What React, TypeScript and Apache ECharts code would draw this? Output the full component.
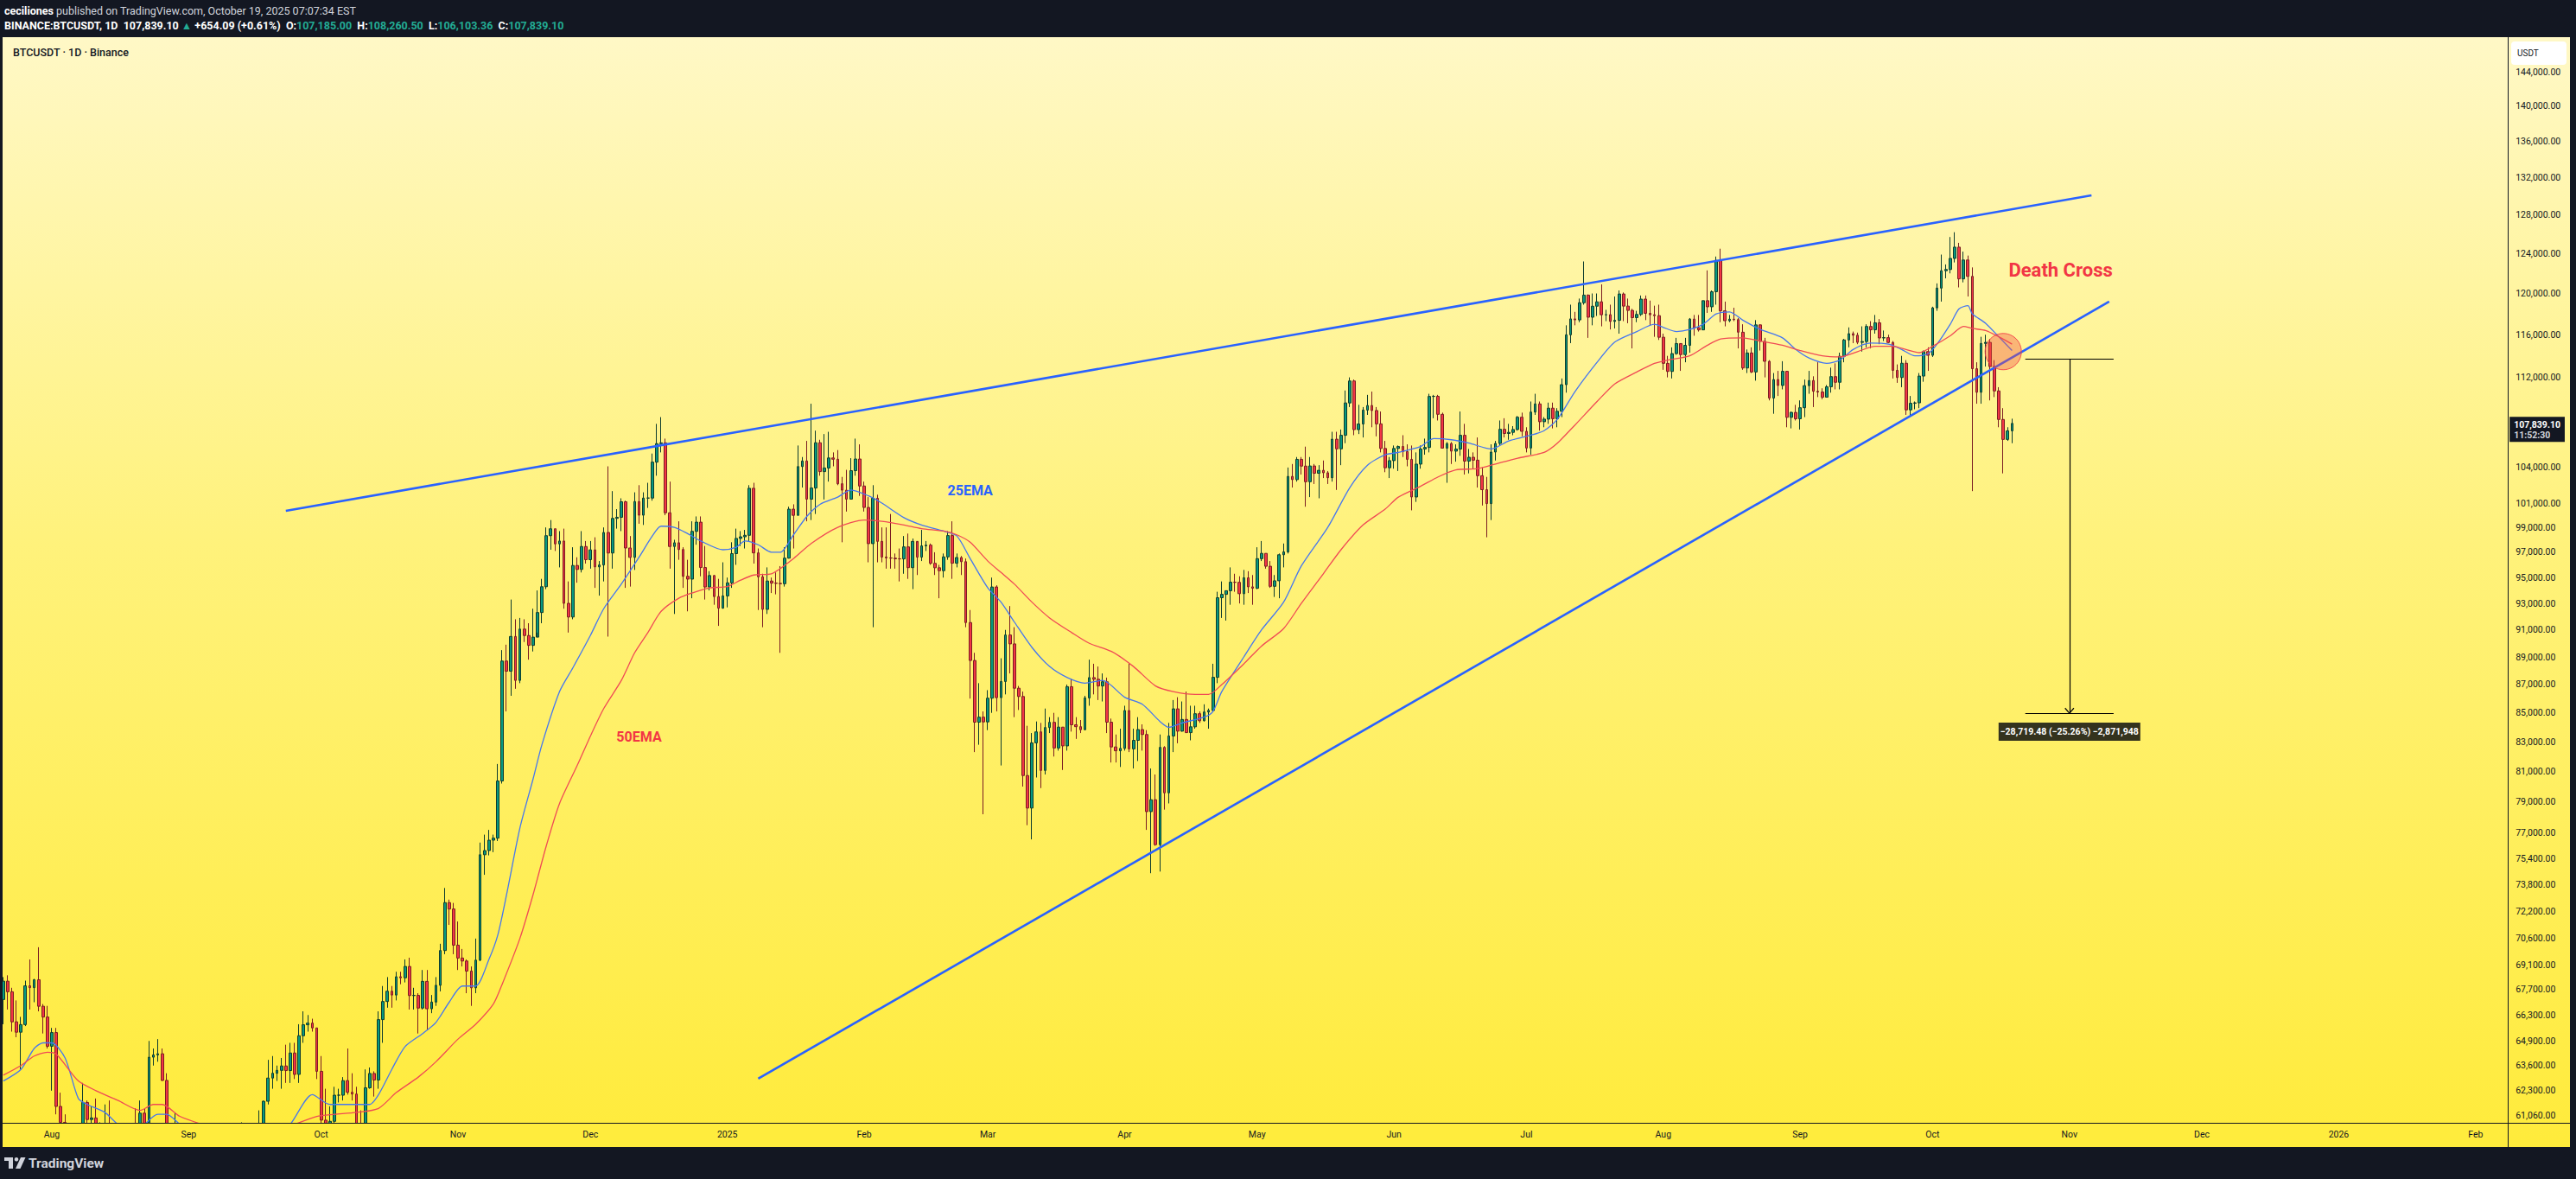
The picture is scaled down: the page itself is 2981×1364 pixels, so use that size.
import React, { useEffect, useRef } from "react";
import * as echarts from "echarts";

const FONT = 'Roboto, "Liberation Sans", Arial, sans-serif';

// ---- daily candles: [high, low, close], thousands of USDT ----
const firstOpen = 67.15; // open of 2024-07-21
const jul2024 = [[68.4,65.8,68.17],[68.5,66.6,67.58],[67.8,65.4,65.93],[67.1,65.1,65.37],[66.2,63.4,65.78],[68.2,65.7,67.91],[69.4,66.6,67.81],[68.3,67.0,68.25],[70.1,66.5,66.78],[66.9,65.3,66.19],[66.8,64.5,64.62]];
const aug2024 = [[65.6,62.3,65.35],[65.6,61.1,61.50],[62.2,59.8,60.70],[61.1,57.1,58.16],[58.3,49.0,54.02],[57.0,53.9,56.04],[57.8,54.6,55.13],[62.7,54.8,61.70],[61.8,59.6,60.84],[61.5,60.3,60.92],[61.9,58.3,58.71],[60.7,57.7,59.35],[61.6,58.5,60.60],[61.8,58.4,58.74],[59.8,56.1,57.56],[59.8,57.1,58.87],[59.7,58.8,59.49],[60.3,58.4,58.43],[59.6,57.9,59.48],[61.4,58.6,59.01],[61.8,58.8,61.16],[61.4,59.8,60.38],[64.9,60.3,64.04],[64.5,63.6,64.16],[65.0,63.8,64.22],[64.5,62.8,62.83],[63.2,58.0,59.42],[60.2,57.9,59.02],[61.2,58.8,59.37],[59.9,57.8,59.12],[59.4,58.7,58.97]];
const sep2024 = [[59.1,57.2,57.30],[59.4,57.1,59.13],[59.8,57.4,57.48],[58.5,55.6,57.97],[58.3,55.7,56.16],[56.9,52.5,53.95],[54.8,53.7,54.16],[55.3,53.6,54.87],[58.1,54.6,57.05],[58.0,56.4,57.64],[57.9,55.5,57.34],[58.6,57.3,58.13],[60.7,57.6,60.57],[60.6,59.4,60.00],[60.4,58.7,59.13],[59.2,57.5,58.21],[61.3,57.6,60.31],[61.8,59.2,61.76],[63.9,61.6,62.95],[64.1,62.4,63.20],[63.6,62.8,63.35],[64.0,62.4,63.58],[64.7,62.7,63.34],[64.8,62.7,64.26],[64.8,62.9,63.14],[65.8,62.7,65.18],[66.5,64.8,65.77],[66.3,65.4,65.86],[66.1,65.4,65.60],[65.6,62.9,63.30]];
const oct2024 = [[64.1,60.2,60.81],[62.4,59.8,60.63],[61.5,59.8,60.75],[62.5,60.5,62.07],[62.4,61.7,62.07],[63.0,61.8,62.82],[64.5,62.1,62.22],[63.2,61.8,62.13],[62.5,60.3,60.58],[61.3,58.9,60.27],[63.4,59.9,62.45],[63.5,62.4,63.19],[63.3,62.0,62.85],[66.5,62.4,66.05],[67.9,64.8,67.04],[68.4,66.7,67.61],[67.9,66.7,67.40],[68.7,67.1,68.42],[68.7,68.0,68.36],[69.4,68.1,69.00],[69.5,66.6,67.37],[67.8,66.6,67.38],[67.5,65.3,66.68],[68.8,66.6,68.16],[68.8,65.5,66.64],[67.4,66.4,67.01],[68.4,66.8,67.94],[70.3,67.6,69.91],[73.6,69.7,72.72],[72.9,71.4,72.34],[72.7,69.7,70.22]];
const nov2024 = [[71.6,68.8,69.48],[70.0,69.0,69.31],[69.4,67.5,68.74],[69.0,66.8,67.80],[70.6,67.5,69.36],[76.4,69.3,75.64],[76.9,74.4,75.90],[77.2,75.6,76.55],[76.9,75.8,76.68],[81.5,76.5,80.37],[89.5,80.2,88.70],[89.9,85.1,87.96],[93.3,86.2,90.51],[91.8,86.7,87.30],[91.9,87.1,91.06],[91.8,90.1,90.58],[91.5,88.8,89.85],[92.6,89.4,90.46],[94.0,90.8,92.31],[94.9,91.5,94.29],[99.0,94.1,98.33],[99.6,97.2,98.89],[98.9,97.1,97.67],[98.7,95.8,97.90],[98.9,92.6,93.01],[94.7,90.8,91.97],[97.4,91.8,95.95],[96.6,94.6,95.64],[98.7,95.4,97.46],[97.9,96.1,96.41]];
const dec2024 = [[97.9,95.7,97.19],[98.2,94.2,95.84],[96.3,93.6,95.99],[99.0,94.7,98.59],[104.1,90.5,96.94],[102.0,95.7,99.74],[100.5,98.9,99.83],[101.4,98.7,101.11],[101.2,94.2,97.34],[98.3,94.3,96.59],[101.9,95.6,101.13],[102.5,99.3,100.00],[101.9,99.2,101.42],[102.7,100.6,101.42],[105.2,101.2,104.46],[107.8,103.3,106.06],[108.4,105.3,106.13],[106.5,100.0,100.20],[102.8,95.7,97.46],[98.0,92.2,97.76],[99.5,96.4,97.22],[97.4,94.2,95.10],[96.4,92.4,94.88],[99.5,93.4,98.68],[99.9,97.6,99.43],[99.9,95.1,95.79],[97.5,93.3,94.27],[95.5,94.0,95.16],[95.2,92.9,93.53],[94.9,91.3,92.64],[96.2,92.6,93.58]];
const jan2025 = [[95.0,92.7,94.59],[97.8,94.2,96.89],[98.9,96.0,98.11],[98.7,97.5,98.24],[98.8,97.3,98.36],[102.5,97.9,102.24],[102.7,96.1,96.95],[97.3,92.5,95.06],[95.3,91.2,92.55],[95.8,92.2,94.73],[95.0,93.8,94.57],[95.4,93.7,94.55],[95.9,89.3,94.52],[97.4,94.3,96.53],[100.7,96.5,100.50],[100.9,97.3,99.99],[105.9,100.0,104.08],[104.9,102.3,104.56],[106.3,99.5,101.33],[109.6,99.6,102.26],[107.2,100.1,106.14],[106.4,103.3,103.65],[106.9,101.3,103.96],[107.1,102.8,104.82],[105.3,104.1,104.71],[105.5,102.5,102.62],[103.2,97.8,102.08],[103.8,100.3,101.33],[104.8,101.3,103.73],[106.5,103.3,104.73],[106.0,101.6,102.43]];
const feb2025 = [[102.8,100.3,100.64],[101.5,96.2,97.69],[102.5,91.2,101.40],[101.7,96.2,97.87],[99.0,96.2,96.62],[99.0,95.7,96.55],[100.1,95.7,96.53],[96.9,95.7,96.48],[97.3,94.7,96.47],[98.3,95.3,97.43],[98.5,94.9,95.78],[98.1,94.1,97.87],[97.8,95.2,96.61],[98.8,96.3,97.51],[97.9,97.1,97.57],[97.7,96.0,96.12],[97.0,95.2,95.77],[96.0,93.4,95.54],[96.9,95.0,96.63],[98.7,96.4,98.34],[99.5,94.9,96.13],[96.9,95.8,96.58],[96.7,95.2,96.25],[96.5,91.2,91.55],[92.5,86.0,88.74],[89.3,82.3,84.35],[87.1,82.8,84.70],[85.1,78.2,84.37]];
const mar2025 = [[86.6,83.8,86.03],[95.0,85.0,94.27],[94.4,85.1,86.07],[88.9,81.4,87.22],[91.0,86.3,90.62],[92.8,87.8,89.96],[91.2,84.7,86.74],[86.9,85.2,86.15],[86.5,80.0,80.73],[84.1,77.5,78.60],[83.6,76.6,82.93],[84.4,80.6,83.68],[84.3,79.9,81.07],[85.3,80.8,83.98],[84.7,83.6,84.34],[85.0,82.0,82.58],[84.7,82.4,84.01],[84.0,81.1,82.72],[87.0,82.4,86.85],[87.4,83.7,84.17],[84.7,83.2,84.04],[84.5,83.6,83.83],[86.2,83.8,86.05],[88.8,85.5,87.50],[88.5,86.3,87.38],[88.3,85.9,86.90],[87.8,85.8,87.20],[87.5,83.6,84.35],[84.6,81.6,82.65],[83.5,81.6,82.39],[83.9,81.3,82.55]];
const apr2025 = [[85.5,82.4,85.16],[88.5,82.3,82.52],[83.9,81.2,83.10],[84.7,81.7,83.84],[84.2,82.4,83.50],[83.8,77.2,78.37],[81.2,74.5,79.14],[80.8,76.2,76.27],[83.5,74.6,82.62],[82.7,78.5,79.59],[84.3,78.9,83.40],[85.9,82.3,85.28],[86.1,82.9,83.73],[85.8,83.7,84.54],[86.5,83.6,83.63],[85.5,83.1,84.03],[85.5,83.9,84.94],[85.1,84.3,84.45],[85.6,84.4,85.06],[85.3,83.9,85.17],[88.5,85.1,87.52],[93.9,87.1,93.44],[94.7,91.9,93.70],[94.0,91.7,93.98],[95.8,92.9,94.64],[95.3,93.9,94.63],[95.1,93.0,93.75],[95.6,92.9,94.98],[95.5,93.8,94.28],[95.2,92.9,94.17]];
const may2025 = [[97.4,94.1,96.49],[97.9,96.3,96.91],[96.9,95.7,95.89],[96.3,94.2,94.32],[95.2,93.5,94.75],[96.9,93.4,96.80],[97.7,95.8,97.03],[104.0,96.9,103.24],[104.3,102.3,102.97],[104.9,102.8,104.70],[104.9,103.4,104.12],[105.8,100.7,102.79],[104.9,101.5,104.13],[104.3,102.6,103.51],[104.2,101.4,103.76],[104.6,103.1,103.55],[103.7,102.6,103.13],[107.1,102.8,106.45],[107.1,102.1,105.61],[107.3,104.2,106.79],[110.8,106.1,109.67],[112.0,109.3,111.67],[111.8,106.8,107.29],[109.5,106.9,107.79],[109.3,106.6,109.03],[110.4,108.6,109.44],[110.7,107.5,108.99],[109.3,106.7,107.80],[108.9,105.3,105.64],[106.3,103.6,103.98],[104.9,103.1,104.59]];
const jun2025 = [[105.9,103.9,105.64],[105.9,103.7,105.81],[106.8,104.9,105.37],[106.0,104.1,104.70],[105.9,100.4,101.51],[105.3,101.1,104.29],[105.9,103.9,105.60],[106.5,105.1,105.73],[110.5,105.3,110.26],[110.4,108.3,110.27],[110.4,108.1,108.65],[108.8,105.7,105.67],[106.2,102.7,106.07],[106.2,104.3,105.41],[106.0,104.5,105.59],[108.9,105.0,106.79],[107.8,103.4,104.55],[105.6,103.5,104.88],[105.3,103.9,104.63],[106.6,102.3,103.30],[104.0,100.8,102.12],[103.2,98.2,100.96],[106.0,99.6,105.33],[106.3,104.6,106.08],[108.1,105.9,107.32],[108.3,106.6,106.95],[107.8,106.4,107.05],[107.6,106.8,107.30],[108.5,107.2,108.39],[108.8,106.7,107.14]];
const jul2025 = [[107.5,105.3,105.68],[109.8,105.1,108.85],[110.5,108.6,109.58],[109.8,107.2,107.99],[108.4,107.5,108.22],[109.7,107.8,109.20],[109.7,107.4,108.26],[109.2,107.5,108.92],[111.9,108.4,111.33],[116.9,110.6,115.99],[118.9,115.2,117.52],[118.2,116.9,117.42],[119.5,117.2,119.09],[123.2,118.9,119.84],[119.9,115.7,117.68],[120.0,116.9,118.75],[120.0,117.8,119.18],[120.9,116.8,117.92],[118.4,117.3,117.93],[118.9,116.5,117.27],[119.7,116.6,117.38],[120.3,116.1,119.95],[120.1,117.3,118.76],[119.5,117.1,118.34],[118.5,114.7,117.64],[118.3,117.2,117.95],[119.8,117.8,119.45],[119.8,117.4,118.06],[119.3,116.9,117.92],[118.8,115.8,117.83],[118.9,115.5,115.76]];
const aug2025 = [[116.1,112.7,113.30],[114.0,112.0,112.55],[114.8,111.9,114.21],[115.7,114.1,115.16],[115.1,112.6,114.12],[115.7,113.4,114.99],[117.6,114.3,117.50],[117.9,115.9,116.67],[117.9,116.3,116.46],[119.3,116.5,119.29],[122.3,118.1,118.69],[120.3,118.2,120.17],[123.7,118.9,123.31],[124.5,117.2,118.30],[119.2,116.8,117.34],[117.9,117.2,117.49],[118.6,117.3,117.45],[117.6,114.7,116.24],[117.0,112.7,112.87],[114.6,112.4,114.27],[114.8,112.4,112.50],[117.4,111.7,116.94],[117.0,114.5,115.37],[115.7,112.0,113.49],[113.6,109.9,110.11],[112.4,108.7,111.80],[112.6,110.3,111.26],[113.5,110.9,112.56],[112.6,107.5,108.38],[108.9,107.4,108.82],[109.5,108.1,108.25]];
const sep2025 = [[109.9,107.3,109.24],[111.8,108.4,111.24],[112.6,110.5,111.71],[112.1,109.3,110.73],[113.4,110.2,110.66],[111.0,110.0,110.19],[111.3,110.2,111.14],[112.9,110.6,112.07],[113.3,110.9,111.55],[114.3,110.9,113.96],[115.6,113.4,115.50],[116.7,114.8,116.10],[116.3,115.2,115.95],[116.2,115.1,115.27],[116.8,114.4,115.35],[117.0,114.8,116.79],[117.3,114.7,116.47],[117.9,116.1,117.14],[117.5,115.1,115.69],[116.4,115.4,115.72],[116.0,115.2,115.26],[115.4,111.9,112.65],[113.2,111.5,111.99],[114.0,111.1,113.31],[113.6,108.6,109.05],[110.3,108.6,109.64],[109.8,109.1,109.68],[112.4,109.2,112.12],[114.5,111.6,114.40],[114.8,112.6,114.05]];
const oct2025 = [[118.7,113.9,118.59],[121.0,118.3,120.53],[123.9,119.2,122.27],[122.9,121.5,122.39],[125.7,122.0,123.51],[126.2,123.1,124.66],[125.1,120.6,121.45],[124.2,121.1,123.35],[123.8,119.7,121.70],[122.6,102.0,112.80],[113.4,109.6,110.64],[115.8,109.6,115.17],[116.0,113.0,115.27],[115.6,109.9,113.00],[113.6,110.2,110.76],[111.1,107.5,108.19],[109.2,103.5,106.43],[107.5,106.3,107.185],[108.26,106.10,107.84]];

// ---- EMA lines at sample dates (thousands of USDT) ----
const ema25: [string, number][] = [
  ["2024-07-21",62.8],["2024-07-25",63.4],["2024-07-28",64.5],["2024-07-30",64.8],["2024-08-01",64.8],["2024-08-04",64.0],["2024-08-07",61.9],["2024-08-09",61.6],["2024-08-13",61.2],["2024-08-16",60.6],["2024-08-20",60.3],["2024-08-25",61.1],["2024-08-27",61.1],["2024-08-30",60.6],["2024-09-05",59.6],["2024-09-12",58.8],["2024-09-18",59.4],["2024-09-24",60.6],["2024-09-29",62.1],["2024-10-03",61.6],["2024-10-07",61.6],["2024-10-12",61.6],["2024-10-14",62.1],["2024-10-17",63.4],["2024-10-20",64.6],["2024-10-24",65.3],["2024-10-27",65.9],["2024-10-30",67.0],["2024-11-02",67.9],["2024-11-05",67.9],["2024-11-08",69.4],["2024-11-10",70.8],["2024-11-12",73.2],["2024-11-15",77.3],["2024-11-18",80.5],["2024-11-20",82.8],["2024-11-24",86.5],["2024-11-27",88.2],["2024-12-01",90.6],["2024-12-04",92.6],["2024-12-08",94.5],["2024-12-12",96.6],["2024-12-15",98.3],["2024-12-17",99.1],["2024-12-20",99.0],["2024-12-23",98.5],["2024-12-26",97.9],["2024-12-31",97.2],["2025-01-03",97.4],["2025-01-05",97.9],["2025-01-08",97.6],["2025-01-11",97.0],["2025-01-13",97.0],["2025-01-16",98.4],["2025-01-19",99.9],["2025-01-22",100.9],["2025-01-26",101.5],["2025-01-29",102.1],["2025-02-02",101.6],["2025-02-05",101.0],["2025-02-10",99.8],["2025-02-14",99.2],["2025-02-19",98.7],["2025-02-22",98.3],["2025-02-25",96.5],["2025-03-01",94.2],["2025-03-04",93.1],["2025-03-07",91.6],["2025-03-11",89.7],["2025-03-15",88.3],["2025-03-19",87.5],["2025-03-23",87.1],["2025-03-27",87.3],["2025-04-01",86.1],["2025-04-05",85.6],["2025-04-09",84.4],["2025-04-11",84.0],["2025-04-14",84.3],["2025-04-19",84.7],["2025-04-21",85.1],["2025-04-23",86.5],["2025-04-28",89.0],["2025-05-02",91.0],["2025-05-07",93.1],["2025-05-11",95.9],["2025-05-17",99.0],["2025-05-22",102.3],["2025-05-26",104.2],["2025-05-30",105.1],["2025-06-02",105.3],["2025-06-07",105.8],["2025-06-10",106.5],["2025-06-14",106.4],["2025-06-18",106.1],["2025-06-23",105.6],["2025-06-27",106.3],["2025-07-02",106.8],["2025-07-05",107.2],["2025-07-08",108.2],["2025-07-12",110.7],["2025-07-17",113.4],["2025-07-21",115.3],["2025-07-26",116.3],["2025-07-30",117.0],["2025-08-01",116.7],["2025-08-04",116.3],["2025-08-07",116.5],["2025-08-10",117.0],["2025-08-13",118.0],["2025-08-16",118.2],["2025-08-19",117.4],["2025-08-23",116.5],["2025-08-28",115.7],["2025-08-31",114.6],["2025-09-03",113.8],["2025-09-07",113.3],["2025-09-10",113.6],["2025-09-13",114.6],["2025-09-17",115.2],["2025-09-21",115.1],["2025-09-24",114.6],["2025-09-27",114.0],["2025-09-30",114.2],["2025-10-02",115.1],["2025-10-05",117.0],["2025-10-07",118.5],["2025-10-09",118.8],["2025-10-10",118.0],["2025-10-13",117.1],["2025-10-16",115.8],["2025-10-19",114.5]
];
const ema50: [string, number][] = [
  ["2024-07-21",63.1],["2024-07-25",63.6],["2024-07-28",64.1],["2024-07-31",64.3],["2024-08-02",64.2],["2024-08-07",62.8],["2024-08-11",62.3],["2024-08-16",61.8],["2024-08-21",61.3],["2024-08-24",61.6],["2024-08-26",61.6],["2024-08-30",61.0],["2024-09-04",60.6],["2024-09-10",60.2],["2024-09-18",60.0],["2024-09-25",60.6],["2024-09-30",61.0],["2024-10-04",61.1],["2024-10-09",61.2],["2024-10-14",61.4],["2024-10-18",62.2],["2024-10-23",63.0],["2024-10-27",63.8],["2024-11-01",65.0],["2024-11-05",65.8],["2024-11-09",66.9],["2024-11-11",68.0],["2024-11-15",70.6],["2024-11-18",73.2],["2024-11-21",76.2],["2024-11-24",78.9],["2024-11-28",81.4],["2024-12-01",83.4],["2024-12-04",85.3],["2024-12-08",87.3],["2024-12-11",89.3],["2024-12-14",90.8],["2024-12-17",92.4],["2024-12-21",93.4],["2024-12-24",93.8],["2024-12-28",94.2],["2025-01-01",94.3],["2025-01-04",94.8],["2025-01-07",95.2],["2025-01-11",95.3],["2025-01-16",96.5],["2025-01-20",97.7],["2025-01-26",99.0],["2025-02-01",99.6],["2025-02-05",99.5],["2025-02-10",99.2],["2025-02-14",98.9],["2025-02-19",98.7],["2025-02-22",98.4],["2025-02-25",97.8],["2025-03-01",96.3],["2025-03-04",95.4],["2025-03-07",94.5],["2025-03-11",93.1],["2025-03-15",91.9],["2025-03-20",90.8],["2025-03-24",90.0],["2025-03-29",89.4],["2025-04-03",88.3],["2025-04-08",86.9],["2025-04-12",86.5],["2025-04-17",86.3],["2025-04-20",86.3],["2025-04-23",87.0],["2025-04-28",88.5],["2025-05-02",89.8],["2025-05-07",91.1],["2025-05-11",93.0],["2025-05-16",95.3],["2025-05-20",97.2],["2025-05-25",99.2],["2025-05-30",100.5],["2025-06-02",101.5],["2025-06-07",102.4],["2025-06-11",103.2],["2025-06-15",103.8],["2025-06-20",103.9],["2025-06-24",104.3],["2025-06-29",104.8],["2025-07-05",105.3],["2025-07-08",106.1],["2025-07-12",107.7],["2025-07-17",109.8],["2025-07-21",111.4],["2025-07-26",112.5],["2025-07-30",113.3],["2025-08-02",113.6],["2025-08-07",114.0],["2025-08-11",115.0],["2025-08-14",115.6],["2025-08-19",115.7],["2025-08-23",115.4],["2025-08-28",115.0],["2025-09-01",114.5],["2025-09-06",114.0],["2025-09-10",113.9],["2025-09-14",114.4],["2025-09-18",114.9],["2025-09-22",114.9],["2025-09-25",114.6],["2025-09-28",114.3],["2025-10-01",114.9],["2025-10-05",115.9],["2025-10-08",116.8],["2025-10-10",116.6],["2025-10-13",116.4],["2025-10-16",115.8],["2025-10-19",115.1]
];

// ---- drawings (date, thousands of USDT) ----
const upperTrendline: [string, number][] = [["2024-09-23", 100.36], ["2025-11-06", 130.08]];
const lowerTrendline: [string, number][] = [["2025-01-08", 62.92], ["2025-11-10", 119.2]];
const deathCrossCircle: [string, number] = ["2025-10-17", 114.4];
const textNotes: { at: [string, number]; text: string; color: string; size: number }[] = [
  { at: ["2025-10-30", 122.37], text: "Death Cross", color: "#F23645", size: 22 },
  { at: ["2025-02-25", 102.05], text: "25EMA", color: "#2962FF", size: 16 },
  { at: ["2024-12-12", 83.36], text: "50EMA", color: "#F23645", size: 16 },
];
const measureDates = { from: "2025-10-22", mid: "2025-11-01", to: "2025-11-11", arrowL: "2025-10-31", arrowR: "2025-11-02" };
const measureTop = 113.69;
const measureBottom = 84.97052;
const measureArrowTip = 85.33;
const measureLabelAt = 83.69;
const measureLabel = "\u221228,719.48 (\u221225.26%) \u22122,871,948";

// ---- axes ----
const axisStartUTC = Date.UTC(2024, 6, 21);
const axisDayCount = 568;
const priceTicks = [144000,140000,136000,132000,128000,124000,120000,116000,112000,104000,101000,99000,97000,95000,93000,91000,89000,87000,85000,83000,81000,79000,77000,75400,73800,72200,70600,69100,67700,66300,64900,63600,62300,61060];
const yMin = 60676;
const yMax = 148153;
const lastPrice = 107839.1;
const countdown = "11:52:30";
const monthNames = ["Jan","Feb","Mar","Apr","May","Jun","Jul","Aug","Sep","Oct","Nov","Dec"];

const K = 1000;
const dates: string[] = [];
for (let i = 0; i < axisDayCount; i++) {
  dates.push(new Date(axisStartUTC + i * 86400000).toISOString().slice(0, 10));
}
const hlc = [jul2024, aug2024, sep2024, oct2024, nov2024, dec2024, jan2025, feb2025, mar2025, apr2025, may2025, jun2025, jul2025, aug2025, sep2025, oct2025].flat();
const candles = hlc.map((d, i) => {
  const open = i === 0 ? firstOpen : hlc[i - 1][2];
  return [open * K, d[2] * K, d[1] * K, d[0] * K];
});
const toK = (arr: [string, number][]) => arr.map(([d, v]) => [d, v * K]);
const fmt2 = (v: number) => v.toLocaleString("en-US", { minimumFractionDigits: 2, maximumFractionDigits: 2 });

function buildOption() {
  const seg = (a: [string, number], b: [string, number]) => [
    { coord: [a[0], a[1] * K] },
    { coord: [b[0], b[1] * K] },
  ];
  const HDR = 12.5;
  return {
    animation: false,
    title: [
      {
        left: 5, top: 6, padding: 0, z: 30,
        text: "{b|ceciliones} published on TradingView.com, October 19, 2025 07:07:34 EST",
        textStyle: { color: "#D1D4DC", fontSize: HDR, fontWeight: "normal", fontFamily: FONT,
          rich: { b: { color: "#FFFFFF", fontSize: HDR, fontWeight: "bold", fontFamily: FONT } } },
      },
      {
        left: 5, top: 23, padding: 0, z: 30,
        text: "{b|BINANCE:BTCUSDT, 1D}  {w|107,839.10} {g|\u25B2} {w|+654.09 (+0.61%)}  {b|O:}{g|107,185.00}  {b|H:}{g|108,260.50}  {b|L:}{g|106,103.36}  {b|C:}{g|107,839.10}",
        textStyle: { color: "#D1D4DC", fontSize: HDR, fontFamily: FONT,
          rich: {
            b: { color: "#FFFFFF", fontSize: HDR, fontWeight: "bold", fontFamily: FONT },
            w: { color: "#FFFFFF", fontSize: HDR, fontFamily: FONT },
            g: { color: "#22AB94", fontSize: HDR, fontFamily: FONT },
          } },
      },
      {
        left: 15, top: 54, padding: 0, z: 30,
        text: "BTCUSDT \u00B7 1D \u00B7 Binance",
        textStyle: { color: "#131722", fontSize: 12.5, fontWeight: 500, fontFamily: FONT },
      },
    ],
    grid: { left: 1.25, top: 43, width: 2901.9, height: 1256, containLabel: false, outerBoundsMode: "none" },
    xAxis: {
      type: "category",
      data: dates,
      boundaryGap: true,
      z: 30,
      axisLine: { show: false },
      axisTick: { show: false },
      splitLine: { show: false },
      axisLabel: {
        interval: (_i: number, v: string) => v.slice(8) === "01",
        formatter: (v: string) => {
          const m = +v.slice(5, 7);
          return m === 1 ? v.slice(0, 4) : monthNames[m - 1];
        },
        color: "#131722",
        fontSize: 10.5,
        fontFamily: FONT,
        margin: 8,
      },
    },
    yAxis: {
      type: "log",
      logBase: 10,
      min: yMin,
      max: yMax,
      position: "right",
      axisLine: { show: false },
      axisTick: { show: false },
      axisLabel: { show: false },
      splitLine: { show: false },
    },
    series: [
      {
        type: "candlestick",
        name: "BTCUSDT",
        data: candles,
        barWidth: 3.2,
        z: 2,
        clip: true,
        itemStyle: {
          color: "#089981",
          color0: "#F23645",
          borderColor: "#0D3B2E",
          borderColor0: "#7A1C22",
          borderWidth: 1,
        },
        markLine: {
          silent: true,
          animation: false,
          symbol: ["none", "none"],
          lineStyle: { color: "rgba(0,0,0,0)", width: 1 },
          label: {
            show: true,
            position: "end",
            distance: 8,
            color: "#131722",
            fontSize: 10.5,
            fontFamily: FONT,
            formatter: (p: any) => fmt2(p.value),
          },
          data: [
            ...priceTicks.map((v) => ({ yAxis: v })),
            {
              yAxis: lastPrice,
              label: {
                distance: 1,
                offset: [0, 7],
                backgroundColor: "#131722",
                padding: [3, 5, 2, 5],
                formatter: () => `{p|${fmt2(lastPrice)}}\n{t|${countdown}}`,
                rich: {
                  p: { color: "#FFFFFF", fontSize: 10.5, fontWeight: "bold", fontFamily: FONT, lineHeight: 12 },
                  t: { color: "#D1D4DC", fontSize: 10.5, fontWeight: "bold", fontFamily: FONT, lineHeight: 12 },
                },
              },
            },
          ],
        },
        markPoint: {
          silent: true,
          animation: false,
          data: [
            {
              coord: [deathCrossCircle[0], deathCrossCircle[1] * K],
              symbol: "circle",
              symbolSize: 42,
              itemStyle: { color: "rgba(242,80,62,0.38)", borderColor: "rgba(242,54,69,0.85)", borderWidth: 1 },
              label: { show: false },
            },
            ...textNotes.map((n) => ({
              coord: [n.at[0], n.at[1] * K],
              symbol: "circle",
              symbolSize: 1,
              itemStyle: { color: "rgba(0,0,0,0)" },
              label: { show: true, position: "inside", formatter: n.text, color: n.color, fontSize: n.size, fontWeight: "bold", fontFamily: FONT },
            })),
            {
              coord: [measureDates.mid, measureLabelAt * K],
              symbol: "rect",
              symbolSize: [164, 21],
              itemStyle: { color: "rgba(24,24,20,0.88)" },
              label: { show: true, position: "inside", formatter: measureLabel, color: "#FFFFFF", fontSize: 10.5, fontWeight: "bold", fontFamily: FONT },
            },
          ],
        },
      },
      {
        type: "line",
        name: "25EMA",
        data: toK(ema25),
        showSymbol: false,
        smooth: 0.25,
        z: 3,
        lineStyle: { color: "#4576F0", width: 1.3 },
      },
      {
        type: "line",
        name: "50EMA",
        data: toK(ema50),
        showSymbol: false,
        smooth: 0.25,
        z: 3,
        lineStyle: { color: "#F04A55", width: 1.3 },
      },
      {
        type: "line",
        name: "upper",
        data: toK(upperTrendline),
        showSymbol: false,
        z: 4,
        lineStyle: { color: "#2962FF", width: 2.6 },
      },
      {
        type: "line",
        name: "lower",
        data: toK(lowerTrendline),
        showSymbol: false,
        z: 4,
        lineStyle: { color: "#2962FF", width: 2.6 },
        markLine: {
          silent: true,
          animation: false,
          symbol: ["none", "none"],
          lineStyle: { color: "#000000", width: 1.2, type: "solid" },
          label: { show: false },
          data: [
            seg([measureDates.from, measureTop], [measureDates.to, measureTop]),
            seg([measureDates.from, measureBottom], [measureDates.to, measureBottom]),
            seg([measureDates.mid, measureTop], [measureDates.mid, measureBottom]),
            seg([measureDates.arrowL, measureArrowTip], [measureDates.mid, measureBottom]),
            seg([measureDates.arrowR, measureArrowTip], [measureDates.mid, measureBottom]),
          ],
        },
      },
    ],
    graphic: [
      // masks that keep wicks inside the price pane (the page chrome around the pane)
      { type: "rect", z: 20, shape: { x: 3, y: 1300, width: 2900, height: 27 }, style: { fill: "#FFEC3D" }, silent: true },
      { type: "rect", z: 20, shape: { x: 0, y: 1327, width: 2981, height: 37 }, style: { fill: "#131722" }, silent: true },
      { type: "rect", z: 20, shape: { x: 0, y: 43, width: 3, height: 1284 }, style: { fill: "#131722" }, silent: true },
      { type: "line", z: 21, shape: { x1: 2902.5, y1: 43, x2: 2902.5, y2: 1327 }, style: { stroke: "#131722", lineWidth: 1 }, silent: true },
      { type: "line", z: 21, shape: { x1: 3, y1: 1299.5, x2: 2974, y2: 1299.5 }, style: { stroke: "#131722", lineWidth: 1 }, silent: true },
      { type: "rect", z: 21, shape: { x: 2906, y: 48, width: 64, height: 27, r: 4 }, style: { fill: "#FFFFFF" }, silent: true },
      { type: "text", z: 22, x: 2913, y: 61.5, style: { text: "USDT", fill: "#131722", font: `10px ${FONT}`, verticalAlign: "middle", textVerticalAlign: "middle" }, silent: true },
      {
        type: "group", z: 22, silent: true,
        children: [
          { type: "rect", z: 22, shape: { x: 5, y: 1339, width: 10, height: 4 }, style: { fill: "#D1D4DC" } },
          { type: "rect", z: 22, shape: { x: 10, y: 1339, width: 5, height: 13 }, style: { fill: "#D1D4DC" } },
          { type: "circle", z: 22, shape: { cx: 19, cy: 1341.3, r: 2.3 }, style: { fill: "#D1D4DC" } },
          { type: "polygon", z: 22, shape: { points: [[24, 1339], [29.5, 1339], [23.5, 1352], [18, 1352]] }, style: { fill: "#D1D4DC" } },
          { type: "text", z: 22, x: 33, y: 1346, style: { text: "TradingView", fill: "#D1D4DC", font: `bold 15.5px ${FONT}`, verticalAlign: "middle", textVerticalAlign: "middle" } },
        ],
      },
    ],
  };
}

export default function App() {
  const ref = useRef<HTMLDivElement>(null);
  useEffect(() => {
    if (!ref.current) return;
    const chart = echarts.init(ref.current, null, { renderer: "svg" });
    chart.setOption(buildOption() as any);
    return () => chart.dispose();
  }, []);
  return (
    <div style={{ position: "fixed", left: 0, top: 0, width: 2981, height: 1364, background: "#131722", overflow: "hidden" }}>
      <div style={{ position: "absolute", left: 3, top: 43, width: 2971, height: 1284, background: "linear-gradient(180deg, #FFF8C6 0%, #FFF27C 45%, #FFEB3B 100%)" }} />
      <div ref={ref} style={{ position: "absolute", left: 0, top: 0, width: 2981, height: 1364 }} />
    </div>
  );
}
